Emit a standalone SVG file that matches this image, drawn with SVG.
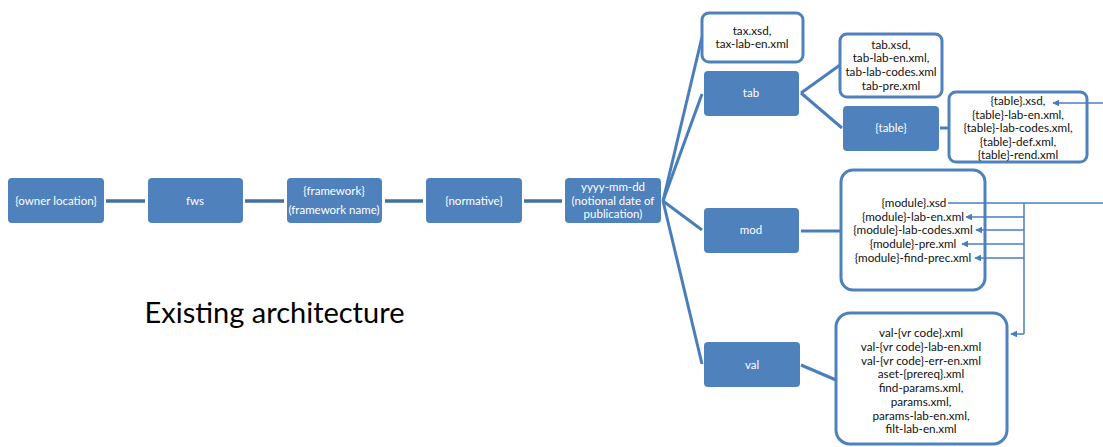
<svg xmlns="http://www.w3.org/2000/svg" width="1103" height="447" viewBox="0 0 1103 447">
<defs>
<style>
.n{fill:#4f81bd;}
.w{fill:#fff;stroke:#4f81bd;stroke-width:3;}
.tn{font-family:Lato,"Liberation Sans",sans-serif;font-size:11.5px;fill:#fff;text-anchor:middle;}
.tb{font-family:Lato,"Liberation Sans",sans-serif;font-size:11.7px;fill:#111;text-anchor:middle;}
.c{stroke:#4a7ebb;stroke-width:3;fill:none;}
.c1{stroke:#41719c;stroke-width:3.5;fill:none;}
.a{stroke:#4a7ebb;stroke-width:1.5;fill:none;}
.ah{stroke:#4a7ebb;stroke-width:1.5;fill:none;marker-end:url(#arr);}
</style>
<marker id="arr" viewBox="0 0 10 10" refX="9" refY="5" markerWidth="4.5" markerHeight="4.5" orient="auto" markerUnits="strokeWidth">
<path d="M0,0 L10,5 L0,10 z" fill="#4a7ebb"/>
</marker>
</defs>
<rect width="1103" height="447" fill="#fff"/>
<g id="connectors">
<line class="c1" x1="106" y1="201" x2="145" y2="201"/>
<line class="c1" x1="245" y1="201" x2="284" y2="201"/>
<line class="c1" x1="385" y1="201" x2="423" y2="201"/>
<line class="c1" x1="524" y1="201" x2="562" y2="201"/>
<line class="c" x1="663" y1="201" x2="702" y2="37"/>
<line class="c" x1="663" y1="201" x2="702" y2="94"/>
<line class="c" x1="663" y1="201" x2="702" y2="230"/>
<line class="c" x1="663" y1="201" x2="702" y2="364"/>
<line class="c" x1="801" y1="93" x2="840" y2="65"/>
<line class="c" x1="801" y1="93" x2="842" y2="128"/>
<line class="c" x1="940" y1="128" x2="949" y2="128"/>
<line class="c" x1="801" y1="231" x2="841" y2="231"/>
<line class="c" x1="801" y1="365" x2="836" y2="380"/>
</g>
<g id="tax"><rect class="w" x="702" y="13" width="101" height="49" rx="7"/>
<text class="tb" x="752" y="35">tax.xsd,</text><text class="tb" x="752" y="48">tax-lab-en.xml</text></g>
<g id="tabfiles"><rect class="w" x="840" y="34" width="102" height="63" rx="7"/>
<text class="tb" x="891" y="49">tab.xsd,</text><text class="tb" x="891" y="62">tab-lab-en.xml,</text><text class="tb" x="891" y="76">tab-lab-codes.xml</text><text class="tb" x="891" y="90">tab-pre.xml</text></g>
<g id="tablefiles"><rect class="w" x="949" y="92" width="138" height="70" rx="7"/>
<text class="tb" x="1018" y="105">{table}.xsd,</text><text class="tb" x="1018" y="119">{table}-lab-en.xml,</text><text class="tb" x="1018" y="132">{table}-lab-codes.xml,</text><text class="tb" x="1018" y="146">{table}-def.xml,</text><text class="tb" x="1018" y="159">{table}-rend.xml</text></g>
<g id="modfiles"><rect class="w" x="841" y="170" width="144" height="120" rx="12"/>
<text class="tb" x="914" y="207">{module}.xsd</text><text class="tb" x="913" y="221">{module}-lab-en.xml</text><text class="tb" x="913" y="234">{module}-lab-codes.xml</text><text class="tb" x="913" y="248">{module}-pre.xml</text><text class="tb" x="913" y="262">{module}-find-prec.xml</text></g>
<g id="valfiles"><rect class="w" x="836" y="313" width="171" height="131" rx="14"/>
<text class="tb" x="921" y="337">val-{vr code}.xml</text><text class="tb" x="921" y="351">val-{vr code}-lab-en.xml</text><text class="tb" x="921" y="365">val-{vr code}-err-en.xml</text><text class="tb" x="921" y="378">aset-{prereq}.xml</text><text class="tb" x="921" y="392">find-params.xml,</text><text class="tb" x="921" y="406">params.xml,</text><text class="tb" x="921" y="420">params-lab-en.xml,</text><text class="tb" x="921" y="433">filt-lab-en.xml</text></g>
<g id="arrows">
<line class="ah" x1="1103" y1="103" x2="1053" y2="103"/>
<polyline class="a" points="948,203 1103,203"/>
<line class="a" x1="1024" y1="203" x2="1024" y2="334"/>
<line class="ah" x1="1024" y1="217" x2="966" y2="217"/>
<line class="ah" x1="1024" y1="230" x2="976" y2="230"/>
<line class="ah" x1="1024" y1="244" x2="962" y2="244"/>
<line class="ah" x1="1024" y1="258" x2="975" y2="258"/>
<line class="ah" x1="1024" y1="334" x2="1011" y2="334"/>
</g>
<g id="owner"><rect class="n" x="8" y="178" width="96" height="45" rx="4"/><text class="tn" x="56" y="205">{owner location}</text></g>
<g id="fws"><rect class="n" x="148" y="178" width="95" height="45" rx="4"/><text class="tn" x="195" y="205">fws</text></g>
<g id="framework"><rect class="n" x="287" y="178" width="95" height="45" rx="4"/><text class="tn" x="334" y="195">{framework}</text><text class="tn" x="334" y="214">(framework name)</text></g>
<g id="normative"><rect class="n" x="426" y="178" width="96" height="45" rx="4"/><text class="tn" x="474" y="205">{normative}</text></g>
<g id="date"><rect class="n" x="565" y="178" width="96" height="45" rx="4"/><text class="tn" x="613" y="191">yyyy-mm-dd</text><text class="tn" x="613" y="205">(notional date of</text><text class="tn" x="613" y="218">publication)</text></g>
<g id="tab"><rect class="n" x="704" y="71" width="95" height="45" rx="4"/><text class="tn" x="751" y="97">tab</text></g>
<g id="table"><rect class="n" x="843" y="106" width="96" height="45" rx="4"/><text class="tn" x="891" y="132">{table}</text></g>
<g id="mod"><rect class="n" x="704" y="208" width="95" height="45" rx="4"/><text class="tn" x="751" y="234">mod</text></g>
<g id="val"><rect class="n" x="704" y="342" width="96" height="45" rx="4"/><text class="tn" x="752" y="369">val</text></g>
<text x="274.5" y="323" font-family="Lato,'Liberation Sans',sans-serif" font-size="29" fill="#000" text-anchor="middle">Existing architecture</text>
</svg>
